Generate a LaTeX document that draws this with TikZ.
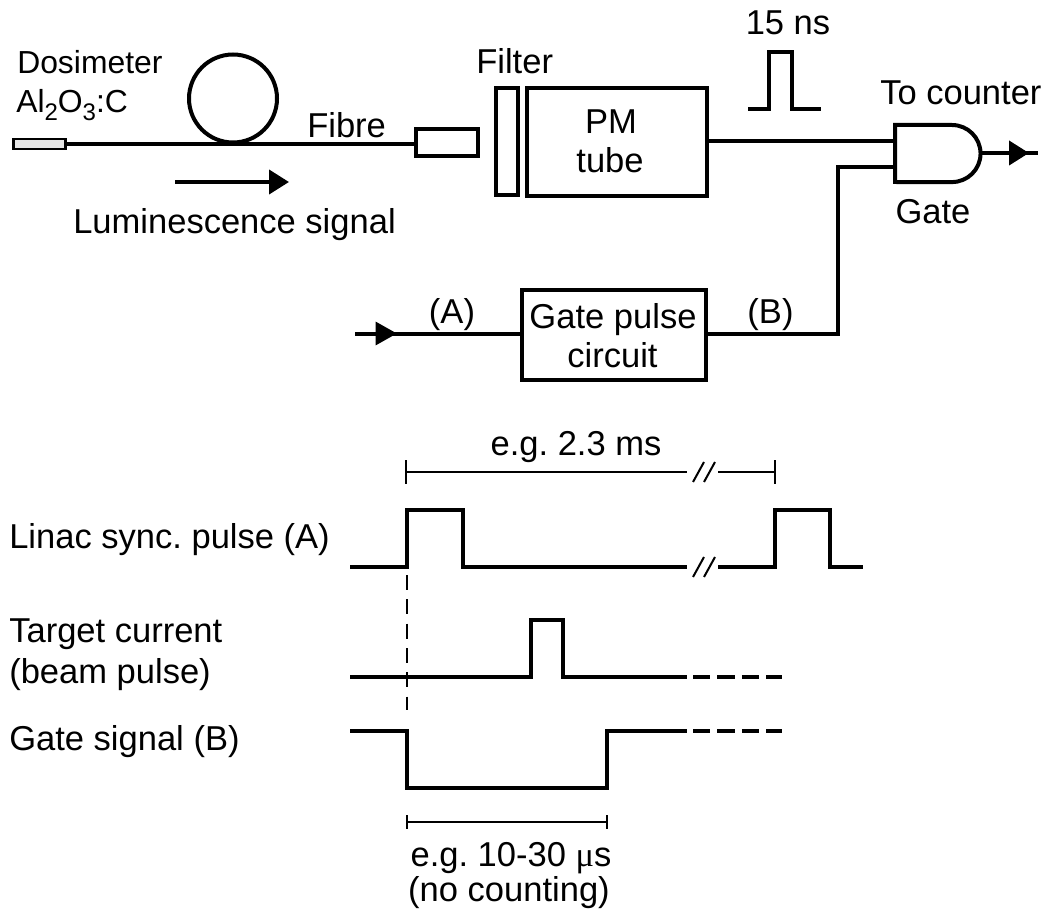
\documentclass[tikz,border=0pt]{standalone}
\usepackage{fontspec}
\setmainfont{Liberation Sans}
\newfontfamily\muserif{Liberation Serif}
\usetikzlibrary{arrows.meta}
\frenchspacing
\newcommand{\lowdig}[1]{\raisebox{-5.5pt}{\fontsize{18}{18}\selectfont #1}}
\tikzset{
  wire/.style={line width=3pt},
  fine/.style={line width=1.5pt},
  wave/.style={line width=3pt,miter limit=10},
  boxst/.style={draw,line width=3pt,inner sep=0pt,align=center},
  lab/.style={inner sep=0pt,anchor=base west,font=\frenchspacing\fontsize{25.9}{25.9}\selectfont},
  cab/.style={inner sep=0pt,anchor=base,font=\frenchspacing\fontsize{25.9}{25.9}\selectfont},
  smlab/.style={lab,font=\frenchspacing\fontsize{23.9}{23.9}\selectfont},
  headtip/.style={-{Triangle[length=15pt,width=18pt]}},
  smalltip/.style={-{Triangle[length=16pt,width=17pt]}},
  wavedash/.style={line width=3pt,dash pattern=on 13pt off 5.3pt},
  vdash/.style={line width=1.5pt,dash pattern=on 11.25pt off 7pt}
}
\begin{document}
\begin{tikzpicture}[x=0.75pt,y=-0.75pt,line join=miter]
\useasboundingbox (0,0) rectangle (1049,909);
% Upper optical chain
\node[draw,line width=1.9pt,fill=black!10,inner sep=0pt,minimum width=39pt,minimum height=7.5pt] (dos) at (39.5,144) {};
\node[boxst,minimum width=47pt,minimum height=20pt] (conn) at (447,142.5) {};
\node[boxst,minimum width=16.5pt,minimum height=80pt] (filt) at (507,141.5) {};
\node[boxst,minimum width=135.5pt,minimum height=81pt] (pm) at (617,142) {};
\node[boxst,minimum width=138pt,minimum height=67.5pt] (gp) at (614,335) {};
\node[draw,circle,line width=3pt,inner sep=0pt,minimum size=66pt] (coil) at (233,98.5) {};
\draw[wire] (dos.east) -- (dos.east -| conn.west);
\node[cab] at (611,134) (pmtext1) {PM};
\node[cab] at (610,173) (pmtext2) {tube};
\node[cab] at (613,328) (gptext1) {Gate pulse};
\node[cab] at (612.5,367) (gptext2) {circuit};
% AND gate
\coordinate (gnw) at (895,125);
\coordinate (gsw) at (895,182);
\coordinate (gin1) at (895,141.5);
\coordinate (gin2) at (895,167.5);
\coordinate (gout) at (980,153);
\coordinate (gtip) at (1029,153);
\coordinate (gtail) at (1015,153);
\coordinate (gend) at (1038,153);
\coordinate (jog) at (838,167.5);
\draw[wire] (gsw) -- (gnw) -- (952,125) arc[start angle=90,end angle=-90,radius=21.4pt] -- (gsw) -- cycle;
\draw[wire] (pm.east |- gin1) -- (gin1);
% Gate pulse input and output
\coordinate (ain) at (355,333.5);
\coordinate (amid) at (397,333.5);
\coordinate (atail) at (385,333.5);
\draw[wire] (gp.east |- ain) -| (jog) -- (gin2);
\draw[wire,headtip] (gout) -- (gtip);
\draw[wire] (gtail) -- (gend);
\draw[wire,smalltip] (ain) -- (amid);
\draw[wire] (atail) -- (atail -| gp.west);
% Arrow below fibre
\coordinate (lsa) at (175,182);
\coordinate (lsb) at (289,182);
\draw[wire,headtip] (lsa) -- (lsb);
% Labels upper
\node[smlab] (t1) at (17,74) {Dosimeter};
\node[smlab] (t2) at (16,113) {Al\lowdig{2}O\lowdig{3}:C};
\node[lab] (t3) at (307,138) {Fibre};
\node[lab] (t4) at (73,234) {Luminescence signal};
\node[lab] (t5) at (476,74) {Filter};
\node[cab] (t6) at (788,35) {15 ns};
\node[lab] (t7) at (880,105) {To counter};
\node[cab] (t8) at (933,224) {Gate};
\node[cab] (t9) at (452,323) {(A)};
\node[cab] (t10) at (770.5,323) {(B)};
% 15 ns pulse
\draw[wave] (748,109) -- (769,109) -- (769,52) -- (792,52) -- (792,109) -- (821,109);
% Timing labels
\node[lab] (l1) at (9,548) {Linac sync. pulse (A)};
\node[lab] (l2) at (9,642) {Target current};
\node[lab] (l3) at (9,683) {(beam pulse)};
\node[lab] (l4) at (9,750) {Gate signal (B)};
\node[cab] (d1) at (576,455) {e.g. 2.3 ms};
\node[cab] (d2) at (511,866) {e.g. 10-30 {\muserif μ}s};
\node[cab] (d3) at (509,901) {(no counting)};
% Period dimension
\draw[fine] (406,460) -- (406,484);
\draw[fine] (775,460) -- (775,484);
\draw[fine] (406,472) -- (687,472);
\draw[fine] (718,472) -- (775,472);
\draw[fine] (693,482) -- (704,462);
\draw[fine] (704,482) -- (715,462);
% Waves
\draw[wave] (350,567) -- (407,567) -- (407,510) -- (463,510) -- (463,567) -- (687,567);
\draw[wave] (718,567) -- (775,567) -- (775,510) -- (830,510) -- (830,567) -- (863,567);
\draw[fine] (693,577) -- (704,557);
\draw[fine] (704,577) -- (715,557);
\draw[vdash] (407,575) -- (407,710);
\draw[wave] (350,677) -- (531,677) -- (531,620) -- (563,620) -- (563,677) -- (687,677);
\draw[wavedash] (693,677) -- (782,677);
\draw[wave] (350,731) -- (407,731) -- (407,788) -- (607,788) -- (607,731) -- (687,731);
\draw[wavedash] (693,731) -- (782,731);
% Pulse width dimension
\draw[fine] (407,815) -- (407,829);
\draw[fine] (607,815) -- (607,829);
\draw[fine] (407,822) -- (607,822);
\end{tikzpicture}
\end{document}
